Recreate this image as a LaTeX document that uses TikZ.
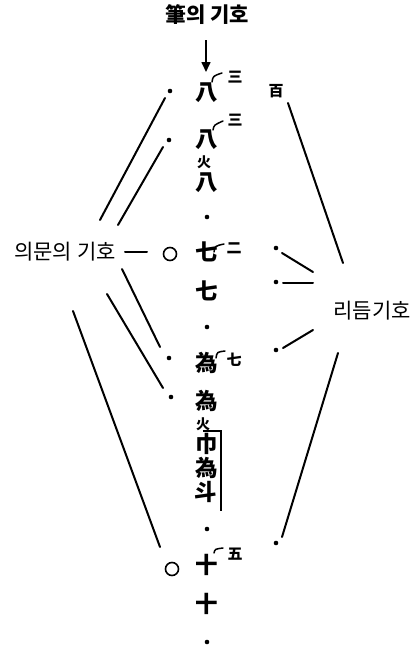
\documentclass[tikz,border=0pt]{standalone}
\usepackage{fontspec}
\newfontfamily\kr{Noto Sans CJK KR}
\usetikzlibrary{arrows.meta}
\tikzset{
  ln/.style={line width=2pt, line cap=round},
  big/.style={inner sep=0pt, text height=19pt, text depth=2.5pt, font=\kr\bfseries\fontsize{22.5}{22.5}\selectfont},
  sml/.style={inner sep=0pt, text height=13pt, text depth=1.7pt, font=\kr\bfseries\fontsize{15}{15}\selectfont},
  tiny/.style={inner sep=0pt, text height=12pt, text depth=1.6pt, font=\kr\bfseries\fontsize{14}{14}\selectfont},
  lbl/.style={inner sep=0pt, font=\kr\fontsize{21}{21}\selectfont},
  dotm/.style={circle, fill=black, inner sep=0pt, minimum size=4.6pt},
  ring/.style={circle, draw=black, line width=1.6pt, inner sep=0pt, minimum size=13pt},
  hook/.style={line width=1.5pt, line cap=round}
}
\begin{document}
\begin{tikzpicture}[x=1pt,y=-1pt]
\useasboundingbox (0,0) rectangle (414,649);
% title and arrow
\node[lbl, font=\kr\bfseries\fontsize{21}{21}\selectfont] (title) at (207,15) {筆의 기호};
\coordinate (arS) at (206,40);
\coordinate (arE) at (206,72);
\draw[line width=1.6pt, -{Triangle[length=10pt,width=9pt]}] (arS) -- (arE);
% central column
\node[big] (c1) at (207,92) {八};
\node[sml] (s1) at (235,77) {三};
\draw[hook] (212,82) .. controls (213,76) .. (222,73);
\node[big] (c2) at (207,139) {八};
\node[sml] (s2) at (235,120) {三};
\draw[hook] (213,130) .. controls (214,125) .. (223,121);
\node[tiny] (c3) at (204,162) {火};
\node[big] (c4) at (207,182) {八};
\node[dotm] (d1) at (207,217) {};
\node[big] (c5) at (207,252) {七};
\node[sml] (s5) at (234,248) {二};
\draw[hook] (214,252) .. controls (215,246) .. (224,244);
\node[big] (c6) at (207,291) {七};
\node[dotm] (d2) at (207,327) {};
\node[big] (c7) at (207,363) {為};
\node[sml] (s7) at (234,360) {七};
\draw[hook] (216,358) .. controls (217,352) .. (225,351);
\node[big] (c8) at (207,401) {為};
\node[tiny] (c9) at (203,424) {火};
\node[big] (c10) at (207,444) {巾};
\node[big] (c11) at (207,468) {為};
\node[big] (c12) at (206,492) {斗};
\coordinate (bA) at (203,431);
\coordinate (bB) at (221,431);
\coordinate (bC) at (221,511);
\draw[line width=1.4pt] (bA) -- (bB) -- (bC);
\node[dotm] (d3) at (207,529) {};
\node[big] (c13) at (207,565) {十};
\node[sml] (s13) at (235,554) {五};
\draw[hook] (214,553) .. controls (215,549) .. (223,548);
\node[big] (c14) at (207,604) {十};
\node[dotm] (d4) at (207,642) {};
% left side
\node[dotm] (l1) at (170,91) {};
\node[dotm] (l2) at (169,140) {};
\node[lbl] (q) at (65,252) {의문의 기호};
\coordinate (dashA) at (125,252);
\coordinate (dashB) at (147,252);
\draw[ln] (dashA) -- (dashB);
\node[ring] (o1) at (170,254) {};
\node[dotm] (l3) at (169,358) {};
\node[dotm] (l4) at (171,397) {};
\node[ring] (o2) at (172,569) {};
\coordinate (a1) at (165,98);  \coordinate (a2) at (100,220);
\coordinate (b1) at (163,147); \coordinate (b2) at (118,225);
\coordinate (e1) at (122,269); \coordinate (e2) at (160,347);
\coordinate (f1) at (107,294); \coordinate (f2) at (163,388);
\coordinate (g1) at (73,311);  \coordinate (g2) at (160,547);
\draw[ln] (a1) -- (a2);
\draw[ln] (b1) -- (b2);
\draw[ln] (e1) -- (e2);
\draw[ln] (f1) -- (f2);
\draw[ln] (g1) -- (g2);
% right side
\node[sml] (h) at (276,91) {百};
\node[dotm] (r1) at (276,248) {};
\node[dotm] (r2) at (276,282) {};
\node[dotm] (r3) at (276,350) {};
\node[dotm] (r4) at (276,543) {};
\node[lbl] (rh) at (372,311) {리듬기호};
\coordinate (h1) at (288,103); \coordinate (h2) at (343,263);
\coordinate (i1) at (282,253); \coordinate (i2) at (313,272);
\coordinate (j1) at (283,283); \coordinate (j2) at (313,283);
\coordinate (k1) at (283,348); \coordinate (k2) at (313,330);
\coordinate (m1) at (338,353); \coordinate (m2) at (282,537);
\draw[ln] (h1) -- (h2);
\draw[ln] (i1) -- (i2);
\draw[ln] (j1) -- (j2);
\draw[ln] (k1) -- (k2);
\draw[ln] (m1) -- (m2);
\end{tikzpicture}
\end{document}
